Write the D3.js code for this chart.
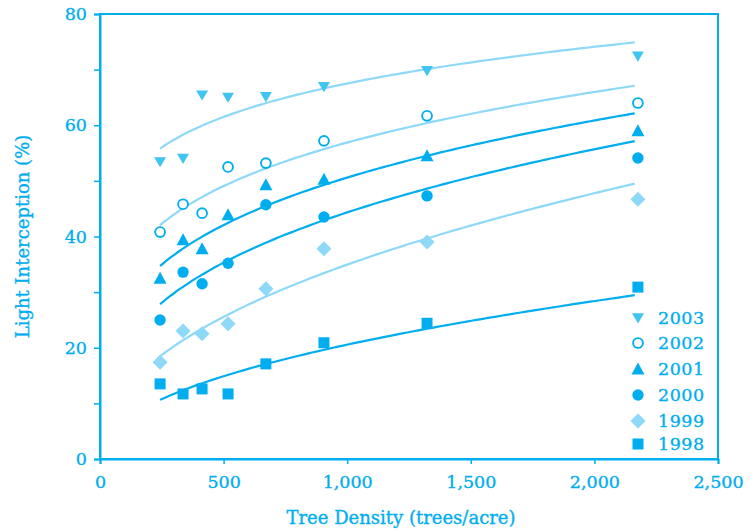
<!DOCTYPE html>
<html>
<head>
<meta charset="utf-8">
<script src="https://cdn.jsdelivr.net/npm/d3@7"></script>
<style>
  html, body { margin: 0; padding: 0; background: #fff; }
  text { font-family: "DejaVu Serif", "Liberation Serif", serif; fill: #00aeef; stroke: #00aeef; stroke-width: 0.35px; }
</style>
</head>
<body>
<div id="chart"></div>
<script>
// tree densities (trees/acre) shared by every year
const densities = [243, 336, 413, 518, 671, 906, 1323, 2176];

// light interception (%) per year
const y2003 = [53.4, 54.0, 65.4, 65.0, 65.1, 66.9, 69.8, 72.4];
const y2002 = [40.8, 45.8, 44.2, 52.5, 53.2, 57.2, 61.7, 64.0];
const y2001 = [32.5, 39.4, 37.8, 43.9, 49.3, 50.3, 54.5, 59.0];
const y2000 = [25.0, 33.6, 31.5, 35.2, 45.7, 43.5, 47.3, 54.1];
const y1999 = [17.4, 23.0, 22.5, 24.3, 30.6, 37.8, 39.0, 46.7];
const y1998 = [13.5, 11.7, 12.6, 11.7, 17.1, 20.9, 24.4, 30.9];

const years = ["2003", "2002", "2001", "2000", "1999", "1998"];
const yearValues = [y2003, y2002, y2001, y2000, y1999, y1998];

const xTicks = [0, 500, 1000, 1500, 2000, 2500];
const yTicks = [0, 20, 40, 60, 80];

const dark = "#00aeef";
const light = "#8ed8f8";
const mid = "#40c4f0";

const styles = {
  "2003": { shape: "tri-down", fill: mid, line: light },
  "2002": { shape: "circle-open", fill: dark, line: light },
  "2001": { shape: "tri-up", fill: dark, line: dark },
  "2000": { shape: "circle", fill: dark, line: dark },
  "1999": { shape: "diamond", fill: light, line: light },
  "1998": { shape: "square", fill: dark, line: dark }
};

const width = 754, height = 531;
const plotL = 100, plotR = 718, plotT = 14, plotB = 459;

const svg = d3.select("#chart").append("svg")
  .attr("width", width).attr("height", height);

const x = d3.scaleLinear().domain([0, 2500]).range([plotL, plotR]);
const y = d3.scaleLinear().domain([0, 80]).range([plotB, plotT]);

// frame
svg.append("rect")
  .attr("x", plotL).attr("y", plotT)
  .attr("width", plotR - plotL).attr("height", plotB - plotT)
  .attr("fill", "none").attr("stroke", dark).attr("stroke-width", 2);

// axes
const xAxis = svg.append("g")
  .attr("transform", `translate(0,${plotB})`)
  .call(d3.axisBottom(x).tickValues(xTicks).tickSize(5).tickPadding(12)
    .tickFormat(d3.format(",")));
const yAxis = svg.append("g")
  .attr("transform", `translate(${plotL},0)`)
  .call(d3.axisLeft(y).tickValues(d3.range(0, 81, 10)).tickSize(6).tickPadding(7)
    .tickFormat((d) => (yTicks.includes(d) ? d : "")));

[xAxis, yAxis].forEach((g) => {
  g.select(".domain").attr("stroke", dark).attr("stroke-width", 2);
  g.selectAll(".tick line").attr("stroke", dark).attr("stroke-width", 1.5);
  g.selectAll(".tick text")
    .attr("fill", dark)
    .style("font-family", "DejaVu Serif, serif")
    .style("font-size", "17.5px");
});

svg.append("text")
  .attr("x", (plotL + plotR) / 2 - 8).attr("y", 524)
  .attr("text-anchor", "middle")
  .style("font-size", "18px")
  .text("Tree Density (trees/acre)");

svg.append("text")
  .attr("transform", `translate(29,${(plotT + plotB) / 2}) rotate(-90)`)
  .attr("text-anchor", "middle")
  .style("font-size", "18px")
  .text("Light Interception (%)");

// power fit y = a * x^b (least squares in log-log space)
function powerFit(xs, ys) {
  const lx = xs.map(Math.log), ly = ys.map(Math.log);
  const mx = d3.mean(lx), my = d3.mean(ly);
  let sxy = 0, sxx = 0;
  lx.forEach((v, i) => { sxy += (v - mx) * (ly[i] - my); sxx += (v - mx) ** 2; });
  const b = sxy / sxx;
  return (v) => Math.exp(my + b * (Math.log(v) - mx));
}

function marker(g, shape, color, cx, cy) {
  const s = 6;
  if (shape === "tri-down") {
    g.append("path").attr("d", `M${cx - s},${cy - s * 0.8}L${cx + s},${cy - s * 0.8}L${cx},${cy + s * 0.9}Z`).attr("fill", color);
  } else if (shape === "tri-up") {
    g.append("path").attr("d", `M${cx - 6.5},${cy + 5.5}L${cx + 6.5},${cy + 5.5}L${cx},${cy - 6.5}Z`).attr("fill", color);
  } else if (shape === "circle") {
    g.append("circle").attr("cx", cx).attr("cy", cy).attr("r", 5.7).attr("fill", color);
  } else if (shape === "circle-open") {
    g.append("circle").attr("cx", cx).attr("cy", cy).attr("r", 4.9)
      .attr("fill", "#fff").attr("stroke", color).attr("stroke-width", 1.9);
  } else if (shape === "diamond") {
    g.append("path").attr("d", `M${cx},${cy - 7.5}L${cx + 7.5},${cy}L${cx},${cy + 7.5}L${cx - 7.5},${cy}Z`).attr("fill", color);
  } else if (shape === "square") {
    g.append("rect").attr("x", cx - 5.5).attr("y", cy - 5.5).attr("width", 11).attr("height", 11).attr("fill", color);
  }
}

const line = d3.line().x((d) => x(d[0])).y((d) => y(d[1])).curve(d3.curveMonotoneX);

years.forEach((yr, k) => {
  const vals = yearValues[k];
  const st = styles[yr];
  const f = powerFit(densities, vals);
  const xs = d3.range(densities[0], densities[densities.length - 1] + 1, 20);
  svg.append("path")
    .datum(xs.map((v) => [v, f(v)]))
    .attr("d", line)
    .attr("fill", "none")
    .attr("stroke", st.line)
    .attr("stroke-width", 2.2);
});

years.forEach((yr, k) => {
  const vals = yearValues[k];
  const st = styles[yr];
  const g = svg.append("g");
  densities.forEach((d, i) => marker(g, st.shape, st.fill, x(d), y(vals[i])));
});

// legend
const legend = svg.append("g");
const legendY = [318, 343, 369, 395, 421, 444];
years.forEach((yr, k) => {
  const st = styles[yr];
  marker(legend, st.shape, st.fill, 638, legendY[k]);
  legend.append("text")
    .attr("x", 658).attr("y", legendY[k] + 6)
    .style("font-size", "17.5px")
    .style("letter-spacing", "0.5px")
    .text(yr);
});
</script>
</body>
</html>
